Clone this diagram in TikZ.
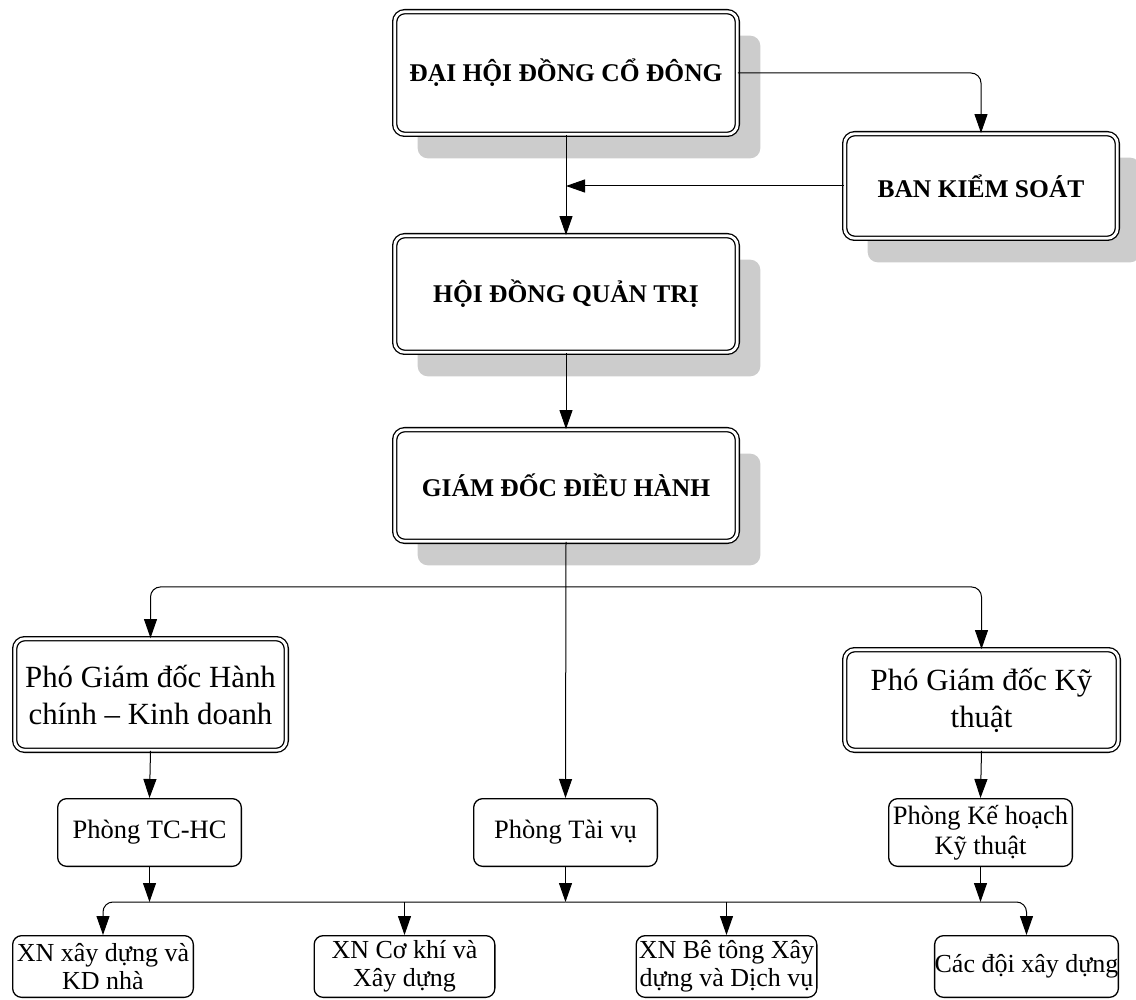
\documentclass[tikz,border=0pt]{standalone}
\usepackage{fontspec}
\setmainfont{Liberation Serif}
\usepackage{tikz}
\usetikzlibrary{positioning,%
  arrows.meta,%
  shadows
}

\tikzset{
  bigbox/.style={draw, double, double distance=2.8pt, line width=1.3pt,
    rounded corners=10pt, fill=white, align=center, inner sep=0pt},
  topbox/.style={bigbox, font=\fontsize{25.5}{29}\selectfont\bfseries,
    drop shadow={shadow xshift=23pt, shadow yshift=-24pt, fill=black!20, opacity=1}},
  vicebox/.style={bigbox, font=\fontsize{30.8}{37}\selectfont},
  unitbox/.style={draw, line width=1.3pt, rounded corners=9pt, fill=white,
    align=center, inner sep=0pt, minimum width=183.7pt, minimum height=67.7pt,
    font=\fontsize{26.5}{30}\selectfont},
  xnbox/.style={unitbox, minimum width=180.7pt, minimum height=61.7pt,
    font=\fontsize{26}{28}\selectfont},
  conn/.style={-{Triangle[length=19pt,width=13pt]}, line width=1pt},
}

\begin{document}
\begin{tikzpicture}[x=1pt,y=-1pt]
  \useasboundingbox (0,0) rectangle (1136,1000);

  % ban lanh dao
  \node[topbox, minimum width=342.6pt, minimum height=122.6pt] (dhdcd) at (566,73) {ĐẠI HỘI ĐỒNG CỔ ĐÔNG};
  \node[topbox, minimum width=272.6pt, minimum height=104.6pt] (bks) at (981,186) {BAN KIỂM SOÁT};
  \node[topbox, minimum width=342.6pt, minimum height=116.6pt] (hdqt) at (566,294) {HỘI ĐỒNG QUẢN TRỊ};
  \node[topbox, minimum width=342.6pt, minimum height=111.6pt] (gddh) at (566,485.5) {GIÁM ĐỐC ĐIỀU HÀNH};

  \node[vicebox, minimum width=271.6pt, minimum height=111.6pt] (pgdkd) at (150.5,694.5) {Phó Giám đốc Hành\\chính – Kinh doanh};
  \node[vicebox, minimum width=273.6pt, minimum height=100.6pt] (pgdkt) at (981.5,700) {Phó Giám đốc Kỹ\\thuật};

  % phong ban
  \node[unitbox] (ptchc) at (149.5,832.5) {Phòng TC-HC};
  \node[unitbox] (ptv) at (565.5,832.5) {Phòng Tài vụ};
  \node[unitbox] (pkhkt) at (980.5,832.5) {Phòng Kế hoạch\\Kỹ thuật};

  % xi nghiep
  \node[xnbox] (xn1) at (103,966.5) {XN xây dựng và\\KD nhà};
  \node[xnbox] (xn2) at (404.5,966.5) {XN Cơ khí và\\Xây dựng};
  \node[xnbox] (xn3) at (726.5,966.5) {XN Bê tông Xây\\dựng và Dịch vụ};
  \node[xnbox] (xn4) at (1026.5,966.5) {Các đội xây dựng};

  \coordinate (split) at ([yshift=-45pt]gddh.south);
  \coordinate (bus) at ([yshift=-35pt]ptv.south);

  \draw[conn, rounded corners=10pt] (dhdcd.east) -| (bks.north);
  \draw[conn] (bks.west) -- (bks.west -| dhdcd.south);
  \draw[conn] (dhdcd.south) -- (hdqt.north);
  \draw[conn] (hdqt.south) -- (gddh.north);

  \draw[conn] (gddh.south) -- (ptv.north);
  \draw[conn, rounded corners=10pt] (split) -| (pgdkd.north);
  \draw[conn, rounded corners=10pt] (split) -| (pgdkt.north);
  \draw[conn] (pgdkd.south) -- (ptchc.north);
  \draw[conn] (pgdkt.south) -- (pkhkt.north);

  \draw[conn] (ptchc.south) -- (ptchc.south |- bus);
  \draw[conn] (ptv.south) -- (bus);
  \draw[conn] (pkhkt.south) -- (pkhkt.south |- bus);
  \draw[conn, rounded corners=10pt] (bus) -| (xn1.north);
  \draw[conn, rounded corners=10pt] (bus) -| (xn4.north);
  \draw[conn] (xn2.north |- bus) -- (xn2.north);
  \draw[conn] (xn3.north |- bus) -- (xn3.north);
\end{tikzpicture}
\end{document}
